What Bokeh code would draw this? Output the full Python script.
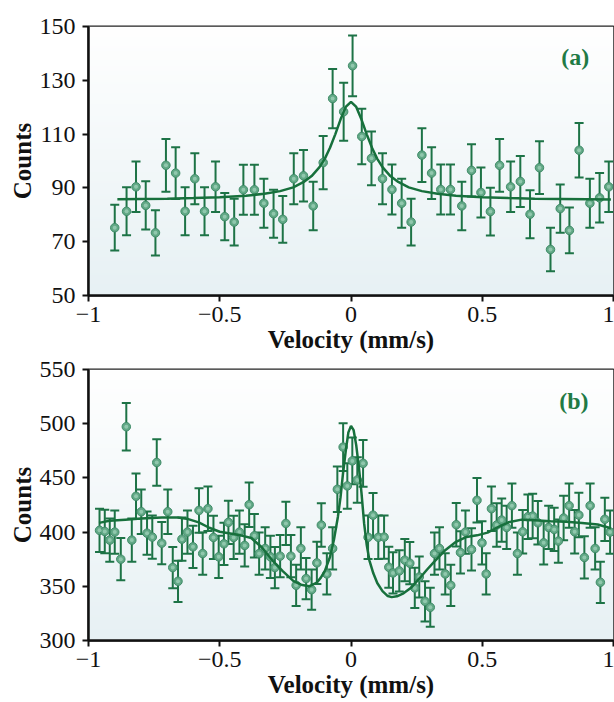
import numpy as np
from bokeh.plotting import figure
from bokeh.models import Range1d, FixedTicker, CustomJSTickFormatter, Label, ColumnDataSource
from bokeh.layouts import column
from bokeh.embed import file_html
from bokeh.resources import INLINE

# ---------------- data: panel (a) ----------------
vel_a = [-0.900, -0.855, -0.819, -0.782, -0.745, -0.705, -0.668, -0.632, -0.595, -0.558,
         -0.516, -0.481, -0.445, -0.410, -0.368, -0.332, -0.295, -0.260, -0.218, -0.181,
         -0.144, -0.106, -0.070, -0.028, 0.006, 0.041, 0.078, 0.120, 0.156, 0.193,
         0.229, 0.270, 0.307, 0.342, 0.379, 0.422, 0.459, 0.495, 0.531, 0.566,
         0.608, 0.645, 0.682, 0.718, 0.760, 0.797, 0.832, 0.869, 0.910, 0.947, 0.982]
counts_a = [75.2, 81.3, 90.4, 83.5, 73.3, 98.4, 95.5, 81.3, 93.4, 81.3,
            90.4, 79.3, 77.3, 89.3, 89.3, 84.3, 80.4, 78.3, 93.4, 94.5,
            83.3, 99.4, 123.2, 118.3, 135.4, 109.1, 101.0, 93.4, 89.4, 84.3,
            77.3, 102.2, 95.5, 89.4, 89.4, 83.3, 96.5, 88.3, 81.2, 98.4,
            90.4, 92.4, 80.2, 97.5, 67.1, 82.3, 74.2, 104.0, 84.3, 86.3, 90.4]
err_a = [8.5, 8.9, 9.4, 9.0, 8.4, 9.8, 9.6, 8.9, 9.5, 8.9,
         9.4, 8.8, 8.7, 9.3, 9.3, 9.1, 8.9, 8.7, 9.5, 9.6,
         9.0, 9.9, 11.0, 10.8, 11.3, 10.3, 10.0, 9.5, 9.3, 9.1,
         8.7, 10.0, 9.6, 9.3, 9.3, 9.0, 9.7, 9.3, 8.9, 9.8,
         9.4, 9.5, 8.9, 9.8, 8.1, 9.0, 8.5, 10.1, 9.1, 9.2, 9.4]
fit_vel_a = [-0.89, -0.8, -0.7, -0.6, -0.5, -0.4, -0.33, -0.27, -0.22, -0.18, -0.15, -0.12,
             -0.1, -0.08, -0.06, -0.04, -0.02, 0.0, 0.02, 0.04, 0.06, 0.08, 0.1, 0.12,
             0.15, 0.18, 0.22, 0.27, 0.33, 0.4, 0.5, 0.6, 0.7, 0.8, 0.9, 0.99]
fit_counts_a = [85.8, 85.9, 86.0, 86.2, 86.5, 87.1, 87.8, 88.8, 90.2, 92.2, 94.4, 97.7,
                100.8, 104.9, 109.9, 115.4, 120.1, 122.0, 120.1, 115.4, 109.9, 104.9, 100.8, 97.7,
                94.4, 92.2, 90.2, 88.8, 87.8, 87.1, 86.5, 86.2, 86.0, 85.9, 85.8, 85.7]

# ---------------- data: panel (b) ----------------
vel_b = [-0.958, -0.938, -0.919, -0.900, -0.877, -0.856, -0.835, -0.819, -0.799, -0.777,
         -0.757, -0.740, -0.721, -0.698, -0.679, -0.659, -0.644, -0.623, -0.602, -0.579,
         -0.565, -0.545, -0.524, -0.504, -0.484, -0.467, -0.447, -0.425, -0.405, -0.388,
         -0.368, -0.350,
         -0.327, -0.307, -0.290, -0.270, -0.248, -0.229, -0.209, -0.191, -0.171, -0.150,
         -0.130, -0.113, -0.092, -0.070, -0.052, -0.030, -0.014, 0.005, 0.024, 0.046,
         0.065, 0.084, 0.104, 0.126, 0.144, 0.160, 0.184, 0.205, 0.224, 0.243,
         0.260, 0.282, 0.302, 0.318,
         0.337, 0.359, 0.380, 0.401, 0.417, 0.436, 0.459, 0.480, 0.499, 0.515,
         0.535, 0.555, 0.574, 0.593, 0.613, 0.634, 0.654, 0.674, 0.692, 0.712,
         0.734, 0.753, 0.774, 0.790, 0.810, 0.831, 0.852, 0.868, 0.889, 0.911,
         0.930, 0.950, 0.967, 0.987]
counts_b = [401.6, 400.6, 392.6, 400.0, 375.0, 497.2, 392.6, 433.0, 418.8, 399.0,
            395.4, 464.2, 389.8, 418.8, 367.3, 354.6, 393.5, 400.0, 386.4, 420.0,
            380.2, 421.6, 395.1, 377.2, 389.2, 409.0, 395.1, 400.0, 387.7, 425.3,
            396.6, 380.2,
            384.9, 377.2, 367.3, 377.8, 408.0, 377.8, 350.9, 384.9, 357.1, 346.9,
            371.6, 406.5, 361.4, 384.9, 439.5, 478.4, 442.6, 465.7, 448.1, 463.4,
            395.2, 415.6, 395.2, 395.4, 367.6, 362.3, 364.2, 374.1, 371.3, 348.5,
            358.6, 336.1, 330.6, 380.2,
            384.9, 361.4, 350.9, 406.8, 381.2, 400.0, 384.0, 429.3, 390.1, 361.4,
            421.6, 406.5, 411.1, 404.3, 424.4, 380.2, 400.3, 414.2, 414.8, 408.6,
            390.1, 404.3, 402.5, 391.7, 413.0, 424.4, 400.3, 415.7, 376.6, 424.4,
            384.9, 353.7, 411.8, 400.0]
err_b = [20, 20, 20, 20, 19.5, 22, 20, 21, 20.5, 20,
         20, 21.5, 19.5, 20.5, 19, 19, 20, 20, 19.5, 20.5,
         19.5, 20.5, 20, 19.5, 19.5, 20, 20, 20, 19.5, 20.5,
         20, 19.5,
         19.5, 19.5, 19, 19.5, 20, 19.5, 19, 19.5, 19, 18.5,
         19.5, 20, 19, 19.5, 21, 22, 21, 21.5, 21, 21.5,
         20, 20.5, 20, 20, 19, 19, 19, 19.5, 19.5, 18.5,
         19, 18.5, 18, 19.5,
         19.5, 19, 19, 20, 19.5, 20, 19.5, 20.5, 20, 19,
         20.5, 20, 20, 20, 20.5, 19.5, 20, 20.5, 20.5, 20,
         20, 20, 20, 20, 20.5, 20.5, 20, 20.5, 19.5, 20.5,
         19.5, 19, 20, 20]
fit_vel_b = [-0.96, -0.92, -0.86, -0.8, -0.72, -0.66, -0.62, -0.58, -0.54, -0.5,
             -0.46, -0.42, -0.38, -0.34, -0.3, -0.26, -0.22, -0.19, -0.16, -0.13,
             -0.115, -0.1, -0.08, -0.065, -0.05, -0.04, -0.03, -0.02, -0.01, 0.0,
             0.01, 0.02, 0.03, 0.04, 0.05, 0.06, 0.07, 0.085, 0.1, 0.12,
             0.14, 0.155, 0.175, 0.2, 0.23, 0.26, 0.29, 0.32, 0.36, 0.4,
             0.44, 0.48, 0.52, 0.56, 0.6, 0.65, 0.7, 0.76, 0.82, 0.88, 0.94, 0.99]
fit_counts_b = [408.5, 410.5, 411.5, 412.5, 413.5, 413.5, 412, 409, 404, 400.3,
                398.8, 397, 394.5, 386, 374, 364, 355, 351.5, 350, 353.5,
                358, 364, 377, 393, 414, 432, 455, 475, 492, 498,
                494, 480, 460, 436, 408, 388, 374, 362, 353, 345.5,
                341, 340, 340.8, 343.5, 349, 357, 365.5, 373.5, 383.5, 391,
                395.5, 397, 399.5, 404.5, 409, 411.5, 411, 410, 409.5, 408.5, 407, 403.5]

x_ticks = [-1, -0.5, 0, 0.5, 1]
y_ticks_a = [50, 70, 90, 110, 130, 150]
y_ticks_b = [300, 350, 400, 450, 500, 550]

FONT = "Liberation Serif"
DARK = "#111111"
ERR_COLOR = "#1d7346"
FIT_COLOR = "#17703c"
PT_FILL = "#62a886"
PT_LINE = "#3f8c68"
PT_HI = "#9ccfb6"


def gradient_image(n=120):
    t = np.linspace(0.0, 1.0, n)  # 0 = bottom, 1 = top
    img = np.empty((n, 1), dtype=np.uint32)
    view = img.view(dtype=np.uint8).reshape((n, 1, 4))
    view[:, 0, 0] = (231 + 24 * t).astype(np.uint8)
    view[:, 0, 1] = (241 + 14 * t).astype(np.uint8)
    view[:, 0, 2] = (244 + 11 * t).astype(np.uint8)
    view[:, 0, 3] = 255
    return img


def make_panel(vel, cnt, err, fvel, fcnt, y_lo, y_hi, yticks, tag, tag_x, tag_y,
               frame_h, top_border):
    p = figure(frame_width=525, frame_height=frame_h,
               x_range=Range1d(-1, 1), y_range=Range1d(y_lo, y_hi),
               output_backend="svg", toolbar_location=None,
               min_border_left=88, min_border_right=1, min_border_top=top_border,
               min_border_bottom=0)
    p.image_rgba(image=[gradient_image()], x=-1, y=y_lo, dw=2, dh=y_hi - y_lo)

    src = ColumnDataSource(dict(
        v=vel, c=cnt,
        lo=[c - e for c, e in zip(cnt, err)],
        hi=[c + e for c, e in zip(cnt, err)]))
    p.segment(x0="v", y0="lo", x1="v", y1="hi", source=src,
              line_color=ERR_COLOR, line_width=2)
    p.scatter(x="v", y="hi", source=src, marker="dash", size=9,
              line_color=ERR_COLOR, line_width=2)
    p.scatter(x="v", y="lo", source=src, marker="dash", size=9,
              line_color=ERR_COLOR, line_width=2)
    p.scatter(x="v", y="c", source=src, marker="circle", size=8.5,
              fill_color=PT_FILL, line_color=PT_LINE, line_width=1)
    p.scatter(x="v", y="c", source=src, marker="circle", size=4,
              fill_color=PT_HI, line_color=None, fill_alpha=0.8)
    p.line(fvel, fcnt, line_color=FIT_COLOR, line_width=2.5)

    p.add_layout(Label(x=tag_x, y=tag_y, text=tag, text_align="right",
                       text_baseline="middle", text_font=FONT,
                       text_font_style="bold", text_font_size="24px",
                       text_color="#1f7a45"))

    p.xaxis.ticker = FixedTicker(ticks=x_ticks)
    p.xaxis.formatter = CustomJSTickFormatter(
        code="return tick < 0 ? '\\u2212' + (-tick) : String(tick);")
    p.yaxis.ticker = FixedTicker(ticks=yticks)
    p.xaxis.axis_label = "Velocity (mm/s)"
    p.yaxis.axis_label = "Counts"
    for ax in (p.xaxis[0], p.yaxis[0]):
        ax.axis_line_width = 2.5
        ax.axis_line_color = DARK
        ax.major_tick_line_width = 2
        ax.major_tick_line_color = DARK
        ax.major_tick_out = 6
        ax.major_tick_in = 0
        ax.minor_tick_out = 0
        ax.minor_tick_in = 0
        ax.major_label_text_font = FONT
        ax.major_label_text_font_size = "24px"
        ax.major_label_text_color = DARK
        ax.axis_label_text_font = FONT
        ax.axis_label_text_font_style = "bold"
        ax.axis_label_text_font_size = "25px"
        ax.axis_label_text_color = DARK
        ax.axis_label_standoff = 1
    p.xaxis[0].major_label_standoff = 5
    p.yaxis[0].major_label_standoff = 7
    p.grid.visible = False
    p.outline_line_color = "#222222"
    p.outline_line_width = 2
    p.background_fill_color = "white"
    p.border_fill_color = "white"
    return p


p1 = make_panel(vel_a, counts_a, err_a, fit_vel_a, fit_counts_a, 50, 150, y_ticks_a,
                "(a)", 0.908, 138.8, 269, 26)
p2 = make_panel(vel_b, counts_b, err_b, fit_vel_b, fit_counts_b, 300, 550, y_ticks_b,
                "(b)", 0.905, 521.3, 271, 14)

layout = column(p1, p2, spacing=0)
with open("out.html", "w", encoding="utf-8") as f:
    f.write(file_html(layout, INLINE))
